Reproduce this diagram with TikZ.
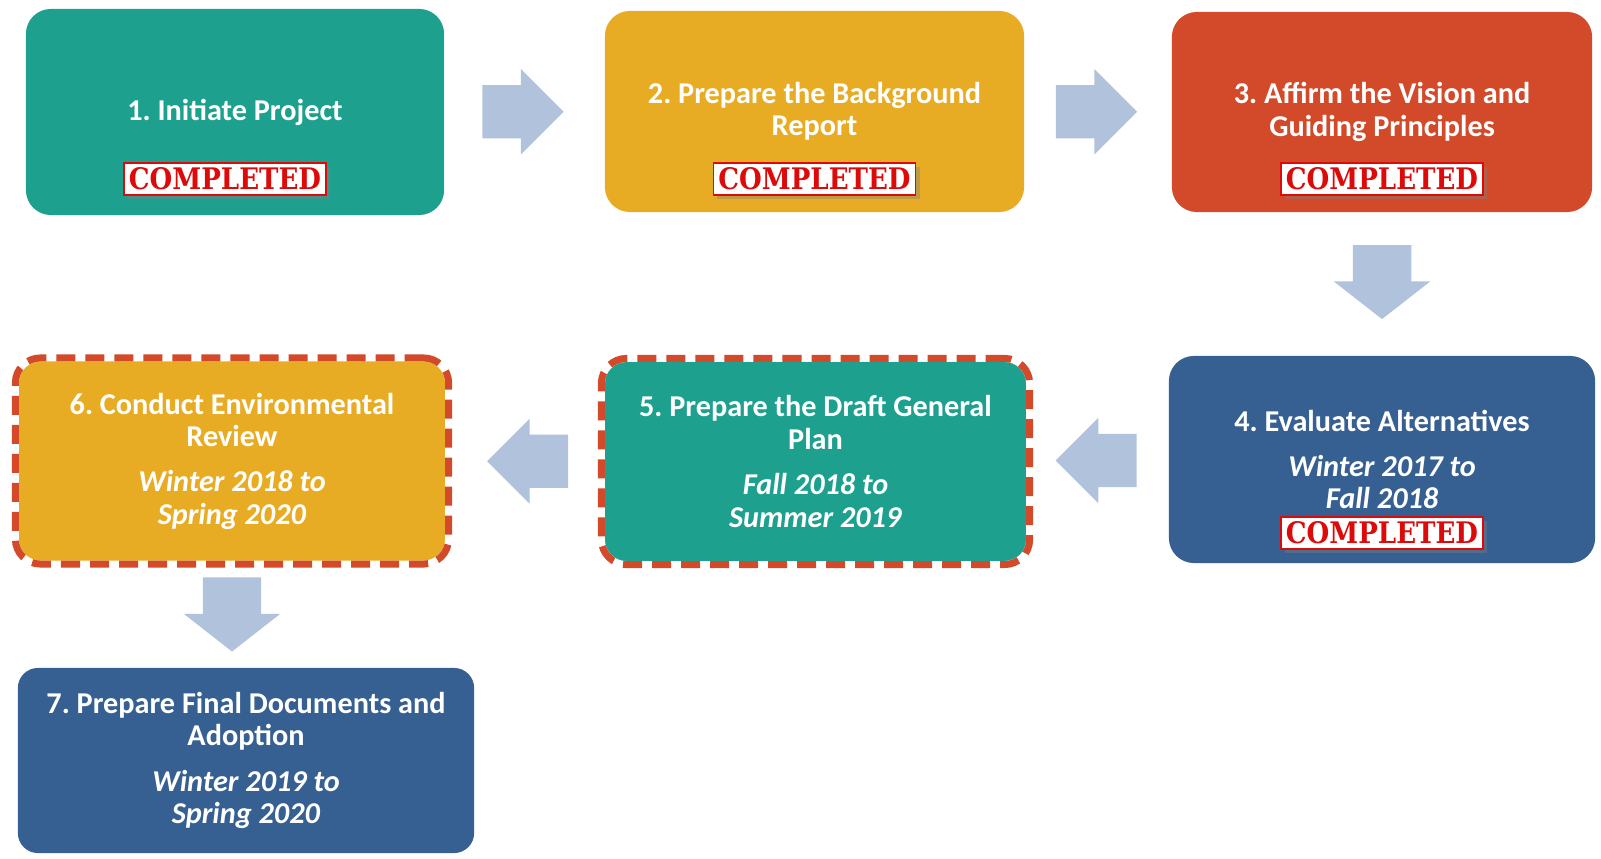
\documentclass[tikz,border=0pt]{standalone}
\usepackage{fontspec}
\setmainfont{Carlito}
\newfontfamily\stampfont{DejaVu Serif Condensed}
\usepackage{graphicx}
\usetikzlibrary{positioning}
\usetikzlibrary{calc}
\usetikzlibrary{shapes.arrows}
\usetikzlibrary{shadows}

\definecolor{stepteal}{HTML}{1EA08E}
\definecolor{stepgold}{HTML}{E8AC24}
\definecolor{steprust}{HTML}{D24A29}
\definecolor{stepblue}{HTML}{376092}
\definecolor{flowblue}{HTML}{B0C2DC}
\definecolor{dashred}{HTML}{D34A2A}
\definecolor{stampred}{HTML}{DD0A0A}

\newcommand{\donestamp}{\resizebox{1.92cm}{0.22cm}{\stampfont\bfseries COMPLETED}}

\begin{document}
\begin{tikzpicture}[x=0.01cm, y=-0.01cm,
    box/.style={rectangle, rounded corners=0.25cm, inner sep=0pt, align=center, text=white,
        font=\fontsize{8.6}{9.2}\selectfont\bfseries\frenchspacing},
    dashedbox/.style={box, draw=white, line width=0.07cm,
        postaction={draw=dashred, line width=0.07cm, dash pattern=on 0.19cm off 0.1cm}},
    stamp/.style={rectangle, draw=stampred, line width=0.015cm, fill=white, inner sep=0pt,
        minimum width=2.02cm, minimum height=0.32cm, text=stampred,
        drop shadow={shadow xshift=0.04cm, shadow yshift=-0.04cm, opacity=0.4}},
    hflow/.style={single arrow, fill=flowblue, inner xsep=0pt, inner ysep=0.26cm, anchor=tip,
        single arrow head extend=0.16cm, minimum height=0.81cm},
    vflow/.style={single arrow, fill=flowblue, inner xsep=0pt, inner ysep=0.285cm, anchor=tip,
        single arrow head extend=0.19cm, single arrow tip angle=104, minimum height=0.74cm, rotate=-90}]
    \useasboundingbox (0,0) rectangle (1601,858);

    % the upper row of steps
    \node[box, fill=stepteal, minimum width=4.18cm, minimum height=2.06cm] (b1) at (235,112)
        {1. Initiate Project};
    \node[box, fill=stepgold, minimum width=4.19cm, minimum height=2.01cm] (b2) at (814.5,111.5)
        {2. Prepare the Background\\Report};
    \node[box, fill=steprust, minimum width=4.20cm, minimum height=2.00cm] (b3) at (1382,112)
        {3. Affirm the Vision and\\Guiding Principles};

    % the middle row, right to left
    \node[box, fill=stepblue, minimum width=4.26cm, minimum height=2.07cm] (b4) at (1382,459.5)
        {4. Evaluate Alternatives\\[0.13cm]\textit{Winter 2017 to}\\\textit{Fall 2018}};
    \node[dashedbox, fill=stepteal, minimum width=4.28cm, minimum height=2.06cm] (b5) at (815.5,461.5)
        {5. Prepare the Draft General\\Plan\\[0.13cm]\textit{Fall 2018 to}\\\textit{Summer 2019}};
    \node[dashedbox, fill=stepgold, minimum width=4.33cm, minimum height=2.06cm] (b6) at (232,461)
        {6. Conduct Environmental\\Review\\[0.13cm]\textit{Winter 2018 to}\\\textit{Spring 2020}};

    % the last step
    \node[box, fill=stepblue, minimum width=4.56cm, minimum height=1.85cm, rounded corners=0.2cm] (b7) at (246,760.5)
        {7. Prepare Final Documents and\\Adoption\\[0.13cm]\textit{Winter 2019 to}\\\textit{Spring 2020}};

    % the stamps
    \node[stamp, above=0.2cm of b1.south, xshift=-0.1cm] (done1) {\donestamp};
    \node[stamp, above=0.17cm of b2.south] (done2) {\donestamp};
    \node[stamp, above=0.17cm of b3.south] (done3) {\donestamp};
    \node[stamp, above=0.14cm of b4.south] (done4) {\donestamp};

    % the block arrows between the steps (placed by their tips)
    \node[hflow] (a12) at ($(b1.east)!0.5!(b2.west)+(40,0)$) {};
    \node[hflow] (a23) at ($(b2.east)!0.5!(b3.west)+(40,0)$) {};
    \node[vflow] (a34) at ($(b3.south)!0.5!(b4.north)+(0,36)$) {};
    \node[hflow, rotate=180] (a45) at ($(b4.west)!0.5!(b5.east)+(-46,0)$) {};
    \node[hflow, rotate=180] (a56) at ($(b5.west)!0.5!(b6.east)+(-39,0)$) {};
    \node[vflow] (a67) at ($(b6.south)!0.5!(b6.south |- b7.north)+(0,35)$) {};
\end{tikzpicture}
\end{document}
